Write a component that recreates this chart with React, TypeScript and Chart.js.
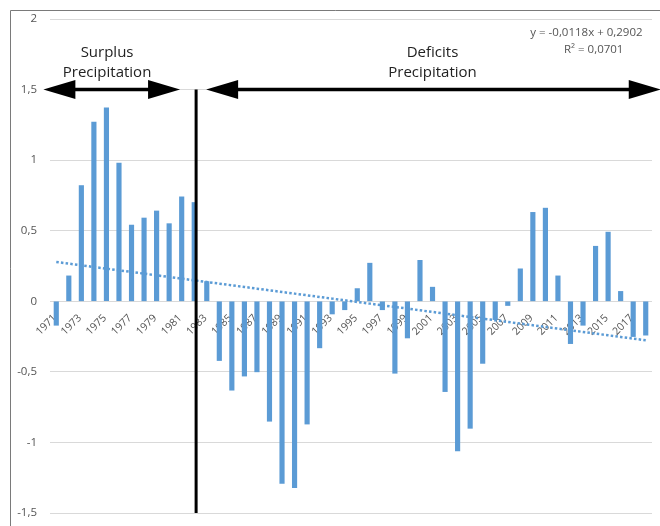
import React, { useEffect, useRef } from "react";
import { Chart, registerables } from "chart.js";

Chart.register(...registerables);

// ---- Data ----
const years = [
  "1971", "1972", "1973", "1974", "1975", "1976", "1977", "1978", "1979", "1980",
  "1981", "1982", "1983", "1984", "1985", "1986", "1987", "1988", "1989", "1990",
  "1991", "1992", "1993", "1994", "1995", "1996", "1997", "1998", "1999", "2000",
  "2001", "2002", "2003", "2004", "2005", "2006", "2007", "2008", "2009", "2010",
  "2011", "2012", "2013", "2014", "2015", "2016", "2017", "2018",
];

const anomalies = [
  -0.17, 0.18, 0.82, 1.27, 1.37, 0.98, 0.54, 0.59, 0.64, 0.55,
  0.74, 0.70, 0.14, -0.42, -0.63, -0.53, -0.50, -0.85, -1.29, -1.32,
  -0.87, -0.33, -0.09, -0.06, 0.09, 0.27, -0.06, -0.51, -0.26, 0.29,
  0.10, -0.64, -1.06, -0.90, -0.44, -0.13, -0.03, 0.23, 0.63, 0.66,
  0.18, -0.30, -0.17, 0.39, 0.49, 0.07, -0.25, -0.24,
];

const yTickValues = [-1.5, -1, -0.5, 0, 0.5, 1, 1.5, 2];

// Linear trend shown on the chart (Excel trendline, x = 1..n)
const TREND_SLOPE = -0.0118;
const TREND_INTERCEPT = 0.2902;
const equationLabel = "y = -0,0118x + 0,2902";
const r2Label = "R² = 0,0701";

const surplusLabel = ["Surplus", "Precipitation"];
const deficitLabel = ["Deficits", "Precipitation"];

const trend = years.map((_, i) => TREND_SLOPE * (i + 1) + TREND_INTERCEPT);

// ---- Styles ----
const BAR_COLOR = "#5B9BD5";
const GRID_COLOR = "#D9D9D9";
const TICK_COLOR = "#555555";
const FONT = "'Open Sans', 'Noto Sans', sans-serif";

function drawArrow(
  ctx: CanvasRenderingContext2D,
  x1: number,
  x2: number,
  y: number,
  headLeft: boolean,
  headRight: boolean
) {
  const headLen = 32;
  const headHalf = 9.5;
  ctx.save();
  ctx.fillStyle = "#000";
  ctx.strokeStyle = "#000";
  ctx.lineWidth = 3.5;
  ctx.beginPath();
  ctx.moveTo(x1 + (headLeft ? headLen - 2 : 0), y);
  ctx.lineTo(x2 - (headRight ? headLen - 2 : 0), y);
  ctx.stroke();
  if (headLeft) {
    ctx.beginPath();
    ctx.moveTo(x1, y);
    ctx.lineTo(x1 + headLen, y - headHalf);
    ctx.lineTo(x1 + headLen, y + headHalf);
    ctx.closePath();
    ctx.fill();
  }
  if (headRight) {
    ctx.beginPath();
    ctx.moveTo(x2, y);
    ctx.lineTo(x2 - headLen, y - headHalf);
    ctx.lineTo(x2 - headLen, y + headHalf);
    ctx.closePath();
    ctx.fill();
  }
  ctx.restore();
}

const annotationPlugin = {
  id: "precipAnnotations",
  beforeDraw(chart: any) {
    const ctx = chart.ctx as CanvasRenderingContext2D;
    ctx.save();
    ctx.fillStyle = "#ffffff";
    ctx.fillRect(0, 0, chart.width, chart.height);
    ctx.strokeStyle = "#7a7a7a";
    ctx.lineWidth = 1;
    ctx.beginPath();
    ctx.moveTo(10.5, chart.height);
    ctx.lineTo(10.5, 10.5);
    ctx.lineTo(chart.width, 10.5);
    ctx.stroke();
    ctx.restore();
  },
  beforeDatasetsDraw(chart: any) {
    // category labels (odd years) rotated 45°, hanging below the zero line
    const ctx = chart.ctx as CanvasRenderingContext2D;
    const xs = chart.scales.x;
    const y0 = chart.scales.y.getPixelForValue(0);
    ctx.save();
    ctx.fillStyle = TICK_COLOR;
    ctx.font = `10.5px ${FONT}`;
    ctx.textAlign = "right";
    ctx.textBaseline = "middle";
    years.forEach((label, i) => {
      if (i % 2 !== 0) return;
      const px = xs.getPixelForValue(i);
      ctx.save();
      ctx.translate(px - 1.5, y0 + 15);
      ctx.rotate(-Math.PI / 4);
      ctx.fillText(label, 0, 0);
      ctx.restore();
    });
    ctx.restore();
  },
  afterDatasetsDraw(chart: any) {
    const ctx = chart.ctx as CanvasRenderingContext2D;
    const xs = chart.scales.x;
    const ys = chart.scales.y;
    const yArrow = ys.getPixelForValue(1.5);

    // divider
    const xDiv = xs.getPixelForValue(11.15);
    ctx.save();
    ctx.strokeStyle = "#000";
    ctx.lineWidth = 3;
    ctx.beginPath();
    ctx.moveTo(xDiv, yArrow);
    ctx.lineTo(xDiv, chart.chartArea.bottom);
    ctx.stroke();
    ctx.restore();

    drawArrow(ctx, xs.getPixelForValue(-1.03), xs.getPixelForValue(9.87), yArrow, true, true);
    drawArrow(ctx, xs.getPixelForValue(11.95), xs.getPixelForValue(48.2), yArrow, true, true);

    ctx.save();
    ctx.fillStyle = "#222";
    ctx.font = `15px ${FONT}`;
    ctx.textAlign = "center";
    ctx.textBaseline = "middle";
    const sx = xs.getPixelForValue(4.05);
    ctx.fillText(surplusLabel[0], sx, ys.getPixelForValue(1.76));
    ctx.fillText(surplusLabel[1], sx, ys.getPixelForValue(1.62));
    const dx = xs.getPixelForValue(30.0);
    ctx.fillText(deficitLabel[0], dx, ys.getPixelForValue(1.76));
    ctx.fillText(deficitLabel[1], dx, ys.getPixelForValue(1.62));

    ctx.fillStyle = TICK_COLOR;
    ctx.font = `11.5px ${FONT}`;
    ctx.textAlign = "right";
    ctx.fillText(equationLabel, xs.getPixelForValue(46.75), ys.getPixelForValue(1.905));
    ctx.textAlign = "center";
    ctx.fillText(r2Label, xs.getPixelForValue(42.85), ys.getPixelForValue(1.785));
    ctx.restore();
  },
};

export default function App() {
  const canvasRef = useRef<HTMLCanvasElement | null>(null);

  useEffect(() => {
    document.body.style.margin = "0";
    document.body.style.overflow = "hidden";
    const canvas = canvasRef.current;
    if (!canvas) return;
    const chart = new Chart(canvas, {
      type: "bar",
      data: {
        labels: years,
        datasets: [
          {
            type: "line",
            label: "Trend",
            data: trend,
            borderColor: BAR_COLOR,
            borderWidth: 2.5,
            borderDash: [2.5, 2.2],
            pointRadius: 0,
            fill: false,
            order: 0,
          } as any,
          {
            type: "bar",
            label: "Precipitation anomaly",
            data: anomalies,
            backgroundColor: BAR_COLOR,
            barThickness: 4.5,
            order: 1,
          },
        ],
      },
      options: {
        animation: false,
        responsive: false,
        maintainAspectRatio: false,
        layout: { padding: { left: 10, top: 19, right: 8, bottom: 13 } },
        plugins: {
          legend: { display: false },
          tooltip: { enabled: false },
          title: { display: false },
        },
        scales: {
          x: {
            display: false,
            grid: { display: false },
          },
          y: {
            min: -1.5,
            max: 2,
            afterFit: (scale: any) => {
              scale.width = 40;
              scale.paddingTop = 0;
              scale.paddingBottom = 0;
            },
            afterBuildTicks: (scale: any) => {
              scale.ticks = yTickValues.map((v) => ({ value: v }));
            },
            grid: { color: GRID_COLOR, lineWidth: 1, drawTicks: false },
            border: { display: false },
            ticks: {
              padding: 13,
              color: TICK_COLOR,
              font: { family: FONT, size: 11.5 },
              callback: (v: any) => String(v).replace(".", ","),
            },
          },
        },
      },
      plugins: [annotationPlugin],
    });
    return () => chart.destroy();
  }, []);

  return (
    <div style={{ width: 660, height: 526 }}>
      <canvas ref={canvasRef} width={660} height={526} style={{ display: "block" }} />
    </div>
  );
}
